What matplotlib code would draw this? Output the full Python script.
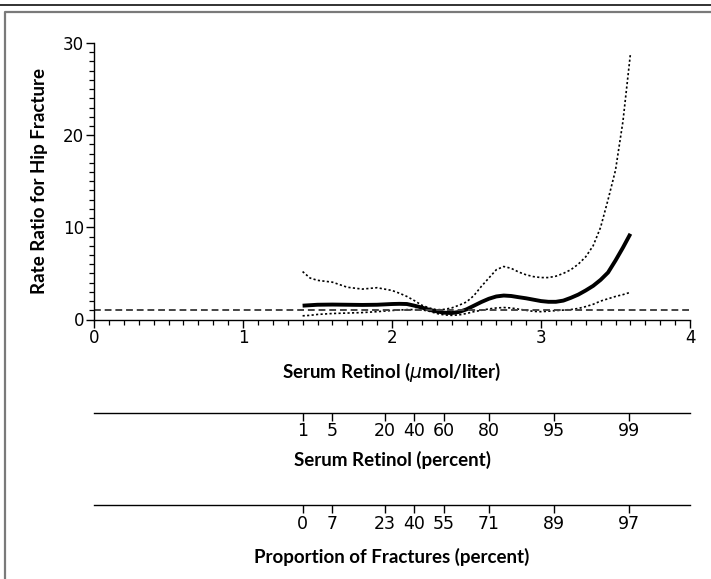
import matplotlib
matplotlib.use("Agg")
import matplotlib.pyplot as plt
from matplotlib.lines import Line2D
from matplotlib.ticker import MultipleLocator

# serum retinol (umol/liter) where the curves were read
retinol = [1.40, 1.45, 1.50, 1.60, 1.70, 1.80, 1.90, 2.00, 2.05, 2.10,
           2.15, 2.20, 2.25, 2.30, 2.35, 2.40, 2.45, 2.50, 2.55, 2.60,
           2.65, 2.70, 2.75, 2.80, 2.85, 2.90, 2.95, 3.00, 3.05, 3.10,
           3.15, 3.20, 3.25, 3.30, 3.35, 3.40, 3.45, 3.50, 3.55, 3.60]

# rate ratio for hip fracture (solid line)
rate_ratio = [1.5, 1.55, 1.6, 1.62, 1.6, 1.58, 1.6, 1.68, 1.7, 1.68,
              1.5, 1.3, 1.05, 0.88, 0.74, 0.7, 0.82, 1.1, 1.5, 1.9,
              2.25, 2.5, 2.6, 2.55, 2.42, 2.3, 2.15, 2.0, 1.92, 1.92,
              2.05, 2.35, 2.7, 3.15, 3.65, 4.3, 5.1, 6.4, 7.8, 9.3]

# upper and lower confidence limits (dotted)
upper_ci = [5.2, 4.5, 4.25, 4.05, 3.5, 3.3, 3.45, 3.15, 2.85, 2.5,
            2.05, 1.55, 1.25, 1.05, 1.1, 1.25, 1.55, 1.9, 2.6, 3.6,
            4.5, 5.4, 5.75, 5.55, 5.15, 4.85, 4.65, 4.55, 4.55, 4.7,
            5.0, 5.4, 6.0, 6.8, 8.0, 10.0, 13.0, 16.2, 21.5, 28.8]
lower_ci = [0.4, 0.45, 0.55, 0.65, 0.7, 0.75, 0.85, 0.98, 1.03, 1.07,
            1.08, 1.05, 0.9, 0.65, 0.5, 0.45, 0.5, 0.65, 0.85, 1.0,
            1.15, 1.25, 1.3, 1.25, 1.12, 1.0, 0.88, 0.85, 0.9, 0.97,
            1.02, 1.08, 1.2, 1.4, 1.65, 2.0, 2.25, 2.5, 2.7, 2.95]

reference_ratio = 1.0

# retinol value at each percentile mark
retinol_at_pct = [1.40, 1.60, 1.95, 2.15, 2.35, 2.65, 3.09, 3.59]
pct_labels = ["1", "5", "20", "40", "60", "80", "95", "99"]
fracture_labels = ["0", "7", "23", "40", "55", "71", "89", "97"]

narrow = ["Liberation Sans Narrow", "DejaVu Sans"]
bold_font = ["Lato", "DejaVu Sans"]

fig = plt.figure(figsize=(7.11, 5.79), dpi=100)
fig.patch.set_facecolor("white")

# cuadro de fondo
fig.add_artist(Line2D([0, 1], [1 - 4.5 / 579, 1 - 4.5 / 579], transform=fig.transFigure,
                      color="#222222", lw=1.3))
fig.add_artist(Line2D([4.5 / 711, 4.5 / 711, 1], [0, 1 - 12 / 579, 1 - 12 / 579],
                      transform=fig.transFigure, color="#7a7a7a", lw=1.6))

ax = fig.add_axes([94 / 711, 1 - 319.5 / 579, 596 / 711, 276.5 / 579])
ax.plot(retinol, upper_ci, color="black", lw=1.2, ls=(0, (1.3, 1.4)))
ax.plot(retinol, lower_ci, color="black", lw=1.2, ls=(0, (1.3, 1.4)))
ax.plot(retinol, rate_ratio, color="black", lw=2.8, solid_capstyle="butt")
ax.axhline(reference_ratio, color="#444444", lw=1.4, ls=(0, (3.5, 2)))

ax.set_xlim(0, 4)
ax.set_ylim(0, 30)
ax.spines["top"].set_visible(False)
ax.spines["right"].set_visible(False)
for s in ("left", "bottom"):
    ax.spines[s].set_linewidth(1.0)
ax.xaxis.set_major_locator(MultipleLocator(1))
ax.xaxis.set_minor_locator(MultipleLocator(0.1))
ax.yaxis.set_major_locator(MultipleLocator(10))
ax.yaxis.set_minor_locator(MultipleLocator(1))
ax.tick_params(which="major", length=6, width=1.0, labelsize=12, pad=1)
ax.tick_params(which="minor", length=3.5, width=0.9)
for lab in ax.get_xticklabels() + ax.get_yticklabels():
    lab.set_family(narrow)
ax.set_xlabel("Serum Retinol ($\\mu$mol/liter)", fontsize=13.5, fontweight="bold",
              family=bold_font, labelpad=9)
ax.set_ylabel("Rate Ratio for Hip Fracture", fontsize=13.5, fontweight="bold",
              family=bold_font)
ax.yaxis.set_label_coords(-0.077, 0.5)

# ejes de percentiles
for ypos, labels, title, pad in [(412.5, pct_labels, "Serum Retinol (percent)", 8),
                                 (505.0, fracture_labels, "Proportion of Fractures (percent)", 11)]:
    sub = fig.add_axes([94 / 711, 1 - ypos / 579, 596 / 711, 0.0001])
    sub.set_xlim(0, 4)
    for s in ("top", "left", "right"):
        sub.spines[s].set_visible(False)
    sub.spines["bottom"].set_linewidth(1.0)
    sub.set_yticks([])
    sub.set_xticks(retinol_at_pct)
    sub.set_xticklabels(labels, family=narrow, fontsize=12.5)
    sub.tick_params(axis="x", length=6, width=1.0, pad=1)
    sub.set_xlabel(title, fontsize=13.5, fontweight="bold", family=bold_font, labelpad=pad)
    sub.patch.set_visible(False)

fig.savefig("out.png", dpi=100, facecolor="white")
